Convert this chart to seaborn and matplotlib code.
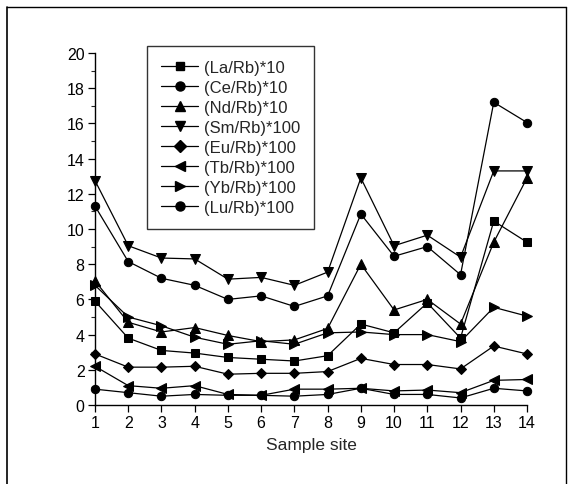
import matplotlib
matplotlib.use("Agg")
import matplotlib.pyplot as plt
import seaborn as sns
import pandas as pd
from matplotlib.lines import Line2D
from matplotlib.ticker import MultipleLocator

sites = list(range(1, 15))
la = [5.9, 3.8, 3.1, 2.95, 2.7, 2.6, 2.5, 2.8, 4.6, 4.1, 5.8, 3.8, 10.45, 9.25]
ce = [11.3, 8.15, 7.2, 6.8, 6.0, 6.2, 5.6, 6.2, 10.85, 8.45, 9.0, 7.4, 17.2, 16.05]
nd = [7.05, 4.7, 4.15, 4.4, 3.95, 3.6, 3.7, 4.35, 8.0, 5.4, 6.0, 4.6, 9.25, 12.9]
sm = [12.75, 9.05, 8.35, 8.3, 7.15, 7.25, 6.8, 7.55, 12.9, 9.05, 9.65, 8.4, 13.3, 13.3]
eu = [2.9, 2.15, 2.15, 2.2, 1.75, 1.8, 1.8, 1.9, 2.65, 2.3, 2.3, 2.05, 3.35, 2.9]
tb = [2.2, 1.1, 0.95, 1.1, 0.6, 0.55, 0.9, 0.9, 0.95, 0.8, 0.85, 0.7, 1.4, 1.45]
yb = [6.8, 5.0, 4.5, 3.85, 3.45, 3.65, 3.45, 4.1, 4.15, 4.0, 4.0, 3.6, 5.55, 5.05]
lu = [0.9, 0.7, 0.5, 0.6, 0.55, 0.55, 0.5, 0.6, 0.95, 0.6, 0.6, 0.4, 0.95, 0.8]

labels = ["(La/Rb)*10", "(Ce/Rb)*10", "(Nd/Rb)*10", "(Sm/Rb)*100",
          "(Eu/Rb)*100", "(Tb/Rb)*100", "(Yb/Rb)*100", "(Lu/Rb)*100"]
series = [la, ce, nd, sm, eu, tb, yb, lu]
markers = ["s", "o", "^", "v", "D", "<", ">", "o"]
msizes = [5.2, 6, 6.5, 6.5, 5.5, 6.5, 6.5, 6]

sns.set_style("ticks")
plt.rcParams["font.family"] = ["Liberation Sans", "DejaVu Sans"]

fig = plt.figure(figsize=(5.7, 4.85), dpi=100)
ax = fig.add_axes([95/570, 1-406/485, (527-95)/570, (406-54)/485])

df = pd.DataFrame({"site": sites * len(series),
                   "value": [v for s in series for v in s],
                   "series": [l for l in labels for _ in sites]})

handles = []
for lab, mk, ms in zip(labels, markers, msizes):
    sub = df[df["series"] == lab]
    sns.lineplot(data=sub, x="site", y="value", ax=ax, color="black",
                 linewidth=0.9, marker=mk, markersize=ms, markeredgecolor="black",
                 markerfacecolor="black", legend=False, clip_on=False, zorder=3)
    handles.append(Line2D([], [], color="black", linewidth=0.9, marker=mk,
                          markersize=ms + 0.5, markerfacecolor="black"))

ax.set_xlim(1, 14)
ax.set_ylim(0, 20)
ax.xaxis.set_major_locator(MultipleLocator(1))
ax.yaxis.set_major_locator(MultipleLocator(2))
ax.yaxis.set_minor_locator(MultipleLocator(1))
ax.tick_params(axis="both", which="major", direction="out", length=5, width=0.9,
               labelsize=11.5, colors="black", pad=2.5)
ax.tick_params(axis="y", which="minor", direction="out", length=3, width=0.8)
for s in ["top", "right"]:
    ax.spines[s].set_visible(False)
for s in ["left", "bottom"]:
    ax.spines[s].set_linewidth(1.0)
    ax.spines[s].set_color("black")
ax.set_xlabel("Sample site", fontsize=12.5, labelpad=5)
ax.set_ylabel("")

leg = ax.legend(handles, labels, loc="upper left", bbox_to_anchor=(0.121, 1.02),
                borderaxespad=0, fontsize=12, frameon=True, fancybox=False,
                handlelength=2.2, handletextpad=0.35, labelspacing=0.3,
                borderpad=0.85)
leg.get_frame().set_edgecolor("black")
leg.get_frame().set_linewidth(1.0)

# outer frame
fig.add_artist(Line2D([7/570, 7/570], [0, 1-8/485], color="black", linewidth=1.2,
                      transform=fig.transFigure))
fig.add_artist(Line2D([7/570, 566/570], [1-8/485, 1-8/485], color="black",
                      linewidth=1.0, transform=fig.transFigure))
fig.add_artist(Line2D([566/570, 566/570], [1-8/485, 0], color="black",
                      linewidth=1.0, transform=fig.transFigure))

fig.savefig("out.png", dpi=100)
